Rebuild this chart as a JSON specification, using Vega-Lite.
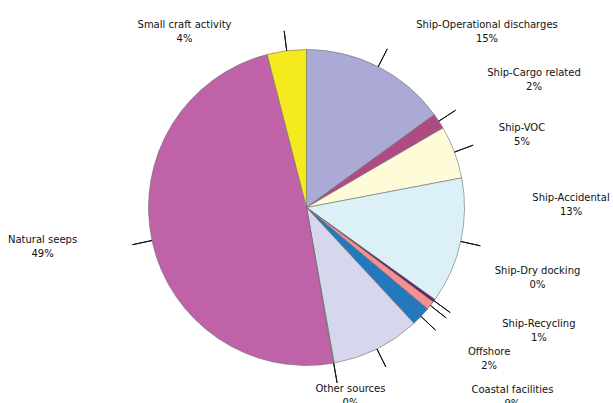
{
  "$schema": "https://vega.github.io/schema/vega-lite/v6.json",
  "width": 613,
  "height": 403,
  "autosize": {"type": "fit", "contains": "padding"},
  "padding": {"left": 0, "right": 0, "top": 13, "bottom": 0},
  "background": "white",
  "config": {"view": {"stroke": null}},
  "data": {
    "values": [
      {"source": "Ship-Operational discharges", "value": 15.0},
      {"source": "Ship-Cargo related", "value": 1.6},
      {"source": "Ship-VOC", "value": 5.4},
      {"source": "Ship-Accidental", "value": 12.9},
      {"source": "Ship-Dry docking", "value": 0.3},
      {"source": "Ship-Recycling", "value": 0.9},
      {"source": "Offshore", "value": 2.0},
      {"source": "Coastal facilities", "value": 9.1},
      {"source": "Other sources", "value": 0.1},
      {"source": "Natural seeps", "value": 48.7},
      {"source": "Small craft activity", "value": 4.0}
    ]
  },
  "transform": [
    {"window": [{"op": "row_number", "as": "i"}]},
    {"stack": "value", "groupby": [], "sort": [{"field": "i", "order": "ascending"}], "as": ["v0", "v1"]},
    {"calculate": "(datum.v0 + datum.v1) / 2", "as": "mid"},
    {"calculate": "datum.source + '\\n' + format(datum.value, '.0f') + '%'", "as": "label"}
  ],
  "layer": [
    {
      "mark": {"type": "arc", "outerRadius": 158, "stroke": "#6e6e6e", "strokeWidth": 0.6},
      "encoding": {
        "theta": {"field": "v0", "type": "quantitative", "stack": null, "scale": {"domain": [0, 100]}},
        "theta2": {"field": "v1"},
        "color": {
          "field": "source",
          "type": "nominal",
          "legend": null,
          "scale": {
            "domain": ["Ship-Operational discharges", "Ship-Cargo related", "Ship-VOC", "Ship-Accidental", "Ship-Dry docking", "Ship-Recycling", "Offshore", "Coastal facilities", "Other sources", "Natural seeps", "Small craft activity"],
            "range": ["#aba9d6", "#b04a82", "#fefbd9", "#dbf1f7", "#6a1c6a", "#f4918f", "#2478be", "#d6d6ec", "#9b9b9b", "#c062a8", "#f4ea1e"]
          }
        }
      }
    },
    {
      "mark": {"type": "arc", "innerRadius": 158, "outerRadius": 178, "fillOpacity": 0, "stroke": "#111111", "strokeWidth": 1},
      "encoding": {
        "theta": {"field": "mid", "type": "quantitative", "stack": null, "scale": {"domain": [0, 100]}},
        "theta2": {"field": "mid"}
      }
    },
    {
      "mark": {
        "type": "text",
        "radius": 200,
        "font": "DejaVu Sans",
        "fontSize": 10,
        "lineHeight": 14,
        "lineBreak": "\n",
        "align": "center",
        "baseline": "middle",
        "color": "#111111",
        "dx": {"expr": "({'Ship-Operational discharges': 89.7, 'Ship-Cargo related': 60, 'Ship-VOC': 28.2, 'Ship-Accidental': 69.2, 'Ship-Dry docking': 69.6, 'Ship-Recycling': 75.5, 'Offshore': 37.7, 'Coastal facilities': 116.8, 'Other sources': 9.6, 'Natural seeps': -68.4, 'Small craft activity': -96.9})[datum.source]"},
        "dy": {"expr": "({'Ship-Operational discharges': -3.8, 'Ship-Cargo related': -24.8, 'Ship-VOC': -9.5, 'Ship-Accidental': -52.9, 'Ship-Dry docking': -54.6, 'Ship-Recycling': -7.5, 'Offshore': 6.6, 'Coastal facilities': 3.5, 'Other sources': -16, 'Natural seeps': -9.4, 'Small craft activity': 16.4})[datum.source]"}
      },
      "encoding": {
        "theta": {"field": "mid", "type": "quantitative", "stack": null, "scale": {"domain": [0, 100]}},
        "text": {"field": "label"}
      }
    }
  ]
}
